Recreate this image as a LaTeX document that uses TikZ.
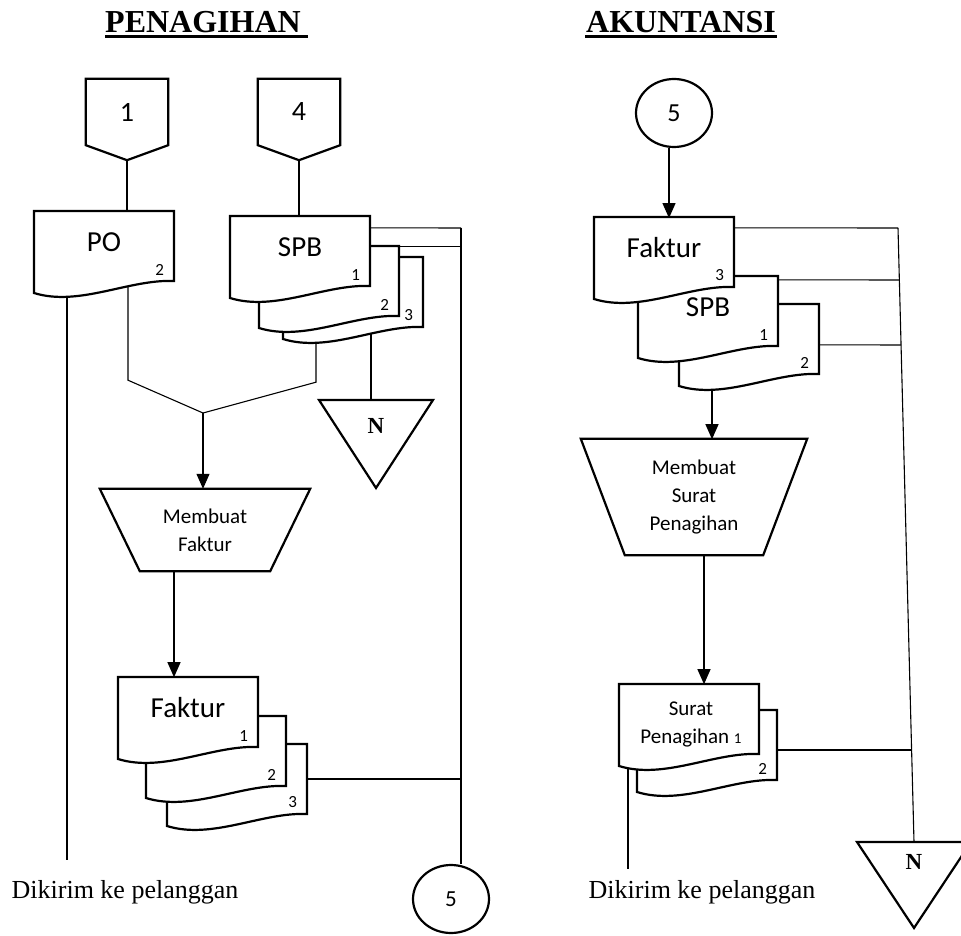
\documentclass[tikz,border=0pt]{standalone}
\usepackage{fontspec}
\setmainfont{Carlito}
\newfontfamily\serif{Liberation Serif}
\usetikzlibrary{arrows.meta,shapes.geometric,backgrounds}

\tikzset{
  garis/.style={line width=2.2pt, line join=miter},
  konektor/.style={line width=1.1pt},
  panah/.style={konektor, -{Triangle[length=15pt,width=13pt]}},
  dok/.style={minimum width=140, minimum height=70, inner sep=0},
  teksdok/.style={font=\fontsize{29}{32}\selectfont, yshift=4pt, inner sep=0},
  nomor/.style={anchor=south east, inner sep=0, xshift=-10pt, yshift=6pt, font=\fontsize{17}{17}\selectfont},
  halaman/.style={minimum width=82, minimum height=66, inner sep=0, font=\fontsize{28}{28}\selectfont},
  lingkaran/.style={ellipse, draw, garis, minimum width=76, minimum height=68, inner sep=0},
  proses/.style={align=center, inner sep=0, font=\fontsize{21}{28}\selectfont},
  judul/.style={font=\serif\bfseries\fontsize{32}{32}\selectfont},
  catatan/.style={font=\serif\fontsize{26}{26}\selectfont},
  arsip/.style={font=\serif\bfseries\fontsize{23}{23}\selectfont},
}

% dokumen: nama, kiri, atas, teks, nomor
\newcommand{\dokumen}[5]{%
  \filldraw[garis, fill=white] (#2,#3) -- ++(140,0) -- ++(0,70) .. controls +(-45,-2) and +(45,14) .. ++(-140,12) -- cycle;
  \node[dok, label={[teksdok]center:#4}, label={[nomor]south east:#5}] (#1) at (#2+70,#3+35) {};
}

\begin{document}
\begin{tikzpicture}[x=1pt, y=-1pt]
\useasboundingbox (0,0) rectangle (961,936);

% judul
\node[judul] (judulKiri) at (203,22) {PENAGIHAN};
\node[judul] (judulKanan) at (681,22) {AKUNTANSI};
\draw[line width=3pt] (105,37) -- (308,37);
\draw[line width=3pt] (585,37) -- (777,37);

% PENAGIHAN
\node[halaman] (hal1) at (127,112) {1};
\node[halaman] (hal4) at (299,112) {4};
\draw[garis] (hal1.south east) -- (hal1.north east) -- (hal1.north west) -- (hal1.south west) -- ([yshift=-15pt]hal1.south) -- cycle;
\draw[garis] (hal4.south east) -- (hal4.north east) -- (hal4.north west) -- (hal4.south west) -- ([yshift=-15pt]hal4.south) -- cycle;

\dokumen{po}{34}{211}{PO}{2}
\dokumen{spbC}{283}{257}{}{3}
\dokumen{spbB}{259}{246}{}{2}
\dokumen{spbA}{230}{216}{SPB}{1}

\coordinate (nKiriAtas) at (376,400);
\node[arsip] (nKiri) at (376,426) {N};
\draw[garis] (nKiriAtas) ++(-57,0) -- ++(114,0) -- ++(-57,88) -- cycle;

\node[proses, minimum width=210, minimum height=82] (proses1) at (205,530) {Membuat\\Faktur};
\draw[garis] (proses1.north west) -- (proses1.north east) -- ([xshift=-40pt]proses1.south east) -- ([xshift=40pt]proses1.south west) -- cycle;

\dokumen{fakC}{167}{744}{}{3}
\dokumen{fakB}{146}{716}{}{2}
\dokumen{fakA}{118}{677}{Faktur}{1}

\node[lingkaran, font=\fontsize{23}{23}\selectfont] (lima1) at (451,899) {5};
\node[catatan] (kirimKiri) at (125,892) {Dikirim ke pelanggan};

% AKUNTANSI
\node[lingkaran, font=\fontsize{26}{26}\selectfont] (lima2) at (674,113) {5};
\dokumen{spbR2}{679}{304}{}{2}
\dokumen{spbR1}{638}{276}{SPB}{1}
\dokumen{fakR}{594}{217}{Faktur}{3}

\node[proses, minimum width=226, minimum height=116] (proses2) at (694,497) {Membuat\\Surat\\Penagihan};
\draw[garis] (proses2.north west) -- (proses2.north east) -- ([xshift=-44pt]proses2.south east) -- ([xshift=44pt]proses2.south west) -- cycle;

\dokumen{sp2}{637}{710}{}{2}
\dokumen{sp1}{619}{684}{}{}
\node[proses] (teksSP) at (691,724) {Surat\\Penagihan {\fontsize{15}{15}\selectfont 1}};

\coordinate (nKananAtas) at (914,842);
\node[arsip] (nKanan) at (914,862) {N};
\draw[garis] (nKananAtas) ++(-57,0) -- ++(114,0) -- ++(-57,86) -- cycle;
\node[catatan] (kirimKanan) at (702,892) {Dikirim ke pelanggan};

% garis alir
\begin{pgfonlayer}{background}
\draw[konektor] ([yshift=-15pt]hal1.south) -- (po.north -| hal1.south);
\draw[konektor] ([yshift=-15pt]hal4.south) -- (spbA.north -| hal4.south);
\coordinate (poBawah) at ([xshift=-37pt]po.south);
\coordinate (poTengah) at ([xshift=24pt]po.south);
\coordinate (gabung) at (203,413);
\draw[konektor, shorten >=17pt] (poBawah) -- (poBawah |- kirimKiri.north);
\draw[konektor] (poTengah) -- ++(0,99) -- (gabung);
\draw[konektor] ([xshift=-37pt]spbC.south) -- ++(0,55) -- (gabung);
\draw[panah] (gabung) -- (gabung |- proses1.north);
\coordinate (spbCBawah) at ([xshift=18pt]spbC.south);
\draw[konektor] (spbCBawah) -- (spbCBawah |- nKiriAtas);
\coordinate (busKiri) at (461,228);
\draw[konektor] ([yshift=-12pt]spbA.north east) -- (busKiri);
\draw[konektor] ([yshift=-1pt]spbB.north east) -- ++(62,0);
\draw[konektor] (busKiri) -- (lima1.north -| busKiri);
\draw[konektor] (fakC.east) -- (fakC.east -| busKiri);
\draw[panah] ([xshift=-31pt]proses1.south) -- ++(0,106);

\draw[panah] ([xshift=-5pt]lima2.south) -- ++(0,70);
\coordinate (busKanan) at (898,228);
\draw[konektor] (busKanan) -- (nKananAtas);
\draw[konektor] ([yshift=-11pt]fakR.north east) -- (busKanan);
\draw[konektor] ([yshift=-4pt]spbR1.north east) -- (899.4,280);
\draw[konektor] ([yshift=-41pt]spbR2.north east) -- (901,345);
\draw[panah] ([xshift=-37pt]spbR2.south) -- ++(0,65);
\draw[panah] ([xshift=10pt]proses2.south) -- ++(0,129);
\draw[konektor] ([yshift=-5pt]sp2.east) -- (911.6,750);
\coordinate (sp1Bawah) at ([xshift=-61pt]sp1.south);
\draw[konektor, shorten >=8pt] (sp1Bawah) -- (sp1Bawah |- kirimKanan.north);
\end{pgfonlayer}
\end{tikzpicture}
\end{document}
